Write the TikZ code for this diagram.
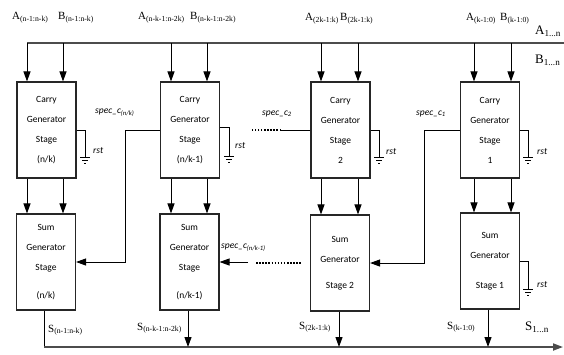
\documentclass[tikz,border=0pt]{standalone}
\usepackage{fontspec}
\setmainfont{Liberation Serif}
\newfontfamily\boxfont{Carlito}
\usetikzlibrary{arrows.meta,calc}
\begin{document}
\begin{tikzpicture}[x=1pt,y=-1pt,
  stagebox/.style={draw=black!85,line width=1.1pt,minimum width=59pt,minimum height=96pt,inner sep=0pt,align=center,font=\boxfont\fontsize{9.5}{20}\selectfont},
  arr/.style={line width=1pt,-{Triangle[length=10pt,width=7pt]}},
  wire/.style={line width=1pt},
  dots/.style={line width=1.1pt,dash pattern=on 1.5pt off 1.6pt},
  bus/.style={line width=1.8pt,black!70},
  lbl/.style={inner sep=0pt,anchor=west,font=\fontsize{11}{12}\selectfont},
  biglbl/.style={inner sep=0pt,anchor=west,font=\fontsize{13}{14}\selectfont},
  sig/.style={inner sep=0pt,anchor=west,font=\boxfont\itshape\fontsize{9.5}{10}\selectfont},
  gndsym/.pic={\draw[line width=0.8pt] (-5,0)--(5,0) (-3,3)--(3,3) (-1,6)--(1,6);}
]
\useasboundingbox (0,0) rectangle (564,354);

% carry stages
\node[stagebox] (c1) at (46.5,130) {Carry\\Generator\\Stage\\(n/k)};
\node[stagebox] (c2) at (190,130) {Carry\\Generator\\Stage\\(n/k-1)};
\node[stagebox] (c3) at (340.5,130) {Carry\\Generator\\Stage\\2};
\node[stagebox] (c4) at (490,130) {Carry\\Generator\\Stage\\1};
% sum stages
\node[stagebox] (s1) at (46,262) {Sum\\Generator\\Stage\\[8pt](n/k)};
\node[stagebox] (s2) at (189.5,262) {Sum\\Generator\\Stage\\[8pt](n/k-1)};
\node[stagebox] (s3) at (340,263) {Sum\\Generator\\[6pt]Stage 2};
\node[stagebox] (s4) at (490,261) {Sum\\Generator\\[10pt]Stage 1};

% top bus
\coordinate (t1a) at (27,43);  \coordinate (t1b) at (63,43);
\coordinate (t2a) at (171,43); \coordinate (t2b) at (207,43);
\coordinate (t3a) at (321,43); \coordinate (t3b) at (358,43);
\coordinate (t4a) at (474,43); \coordinate (t4b) at (511,43);
\coordinate (tend) at (564,43);
\draw[bus] (t1a) -- (tend);
\foreach \t/\c/\s in {t1a/c1/s1,t1b/c1/s1,t2a/c2/s2,t2b/c2/s2,t3a/c3/s3,t3b/c3/s3,t4a/c4/s4,t4b/c4/s4}{
  \draw[arr] (\t) -- (\t |- \c.north);
  \draw[arr] (\t |- \c.south) -- (\t |- \s.north);
}

% bottom bus
\coordinate (o1) at (44,347);
\coordinate (o2) at (188,347);
\coordinate (o3) at (339,347);
\coordinate (o4) at (488,347);
\coordinate (oend) at (563,347);
\draw[wire] (o1 |- s1.south) -- (o1);
\draw[bus,-{Triangle[length=10pt,width=7pt]}] (o1) -- (oend);
\draw[arr] (o2 |- s2.south) -- (o2);
\draw[arr] (o3 |- s3.south) -- (o3);
\draw[arr] (o4 |- s4.south) -- (o4);

% rst
\coordinate (g1) at (85,157);
\coordinate (g2) at (229,156);
\coordinate (g3) at (379,157);
\coordinate (g4) at (528,157);
\coordinate (g5) at (528,289);
\draw[wire] (c1.east) -- (c1.east -| g1) -- (g1);
\draw[wire] ($(c2.east)+(0,-3)$) -- ($(c2.east -| g2)+(0,-3)$) -- (g2);
\draw[wire] (c3.east) -- (c3.east -| g3) -- (g3);
\draw[wire] (c4.east) -- (c4.east -| g4) -- (g4);
\draw[wire] (s4.east) -- (s4.east -| g5) -- (g5);
\foreach \g in {g1,g2,g3,g4,g5} \pic at (\g) {gndsym};
\node[sig] (r1) at (93,151) {rst};
\node[sig] (r2) at (235,146) {rst};
\node[sig] (r3) at (386,152) {rst};
\node[sig] (r4) at (537,152) {rst};
\node[sig] (r5) at (537,285) {rst};

% speculative carries
\coordinate (k1) at (125,130);
\draw[arr] (c2.west) -- (k1) -- (k1 |- s1.east) -- (s1.east);
\coordinate (d2a) at (250,130);
\coordinate (d2b) at (281,130);
\draw[wire] (c3.west) -- (d2b);
\draw[dots] (d2b) -- (d2a);
\coordinate (k3) at (424,130);
\draw[arr] (c4.west) -- (k3) -- (k3 |- s3.east) -- (s3.east);
\coordinate (e1) at (248,262);
\coordinate (e2) at (256,263);
\coordinate (e3) at (301,263);
\draw[arr] (e1) -- (s2.east);
\draw[dots] (e2) -- (e3);

\node[sig] (sp1) at (95,113) {spec\_c\textsubscript{(n/k)}};
\node[sig] (sp2) at (262,114) {spec\_c\textsubscript{2}};
\node[sig] (sp3) at (416,114) {spec\_c\textsubscript{1}};
\node[sig] (sp4) at (221,248) {spec\_c\textsubscript{(n/k-1)}};

% top labels
\node[lbl] (a1) at (12,18) {A\textsubscript{(n-1:n-k)}};
\node[lbl] (b1) at (58,18) {B\textsubscript{(n-1:n-k)}};
\node[lbl] (a2) at (138,18) {A\textsubscript{(n-k-1:n-2k)}};
\node[lbl] (b2) at (190,18) {B\textsubscript{(n-k-1:n-2k)}};
\node[lbl] (a3) at (305,19) {A\textsubscript{(2k-1:k)}};
\node[lbl] (b3) at (340,19) {B\textsubscript{(2k-1:k)}};
\node[lbl] (a4) at (466,19) {A\textsubscript{(k-1:0)}};
\node[lbl] (b4) at (500,19) {B\textsubscript{(k-1:0)}};
\node[biglbl] (an) at (535,31) {A\textsubscript{1...n}};
\node[biglbl] (bn) at (535,60) {B\textsubscript{1...n}};

% bottom labels
\node[lbl] (so1) at (48,330) {S\textsubscript{(n-1:n-k)}};
\node[lbl] (so2) at (137,328) {S\textsubscript{(n-k-1:n-2k)}};
\node[lbl] (so3) at (299,327) {S\textsubscript{(2k-1:k)}};
\node[lbl] (so4) at (447,327) {S\textsubscript{(k-1:0)}};
\node[biglbl] (sn) at (525,327) {S\textsubscript{1...n}};
\end{tikzpicture}
\end{document}
